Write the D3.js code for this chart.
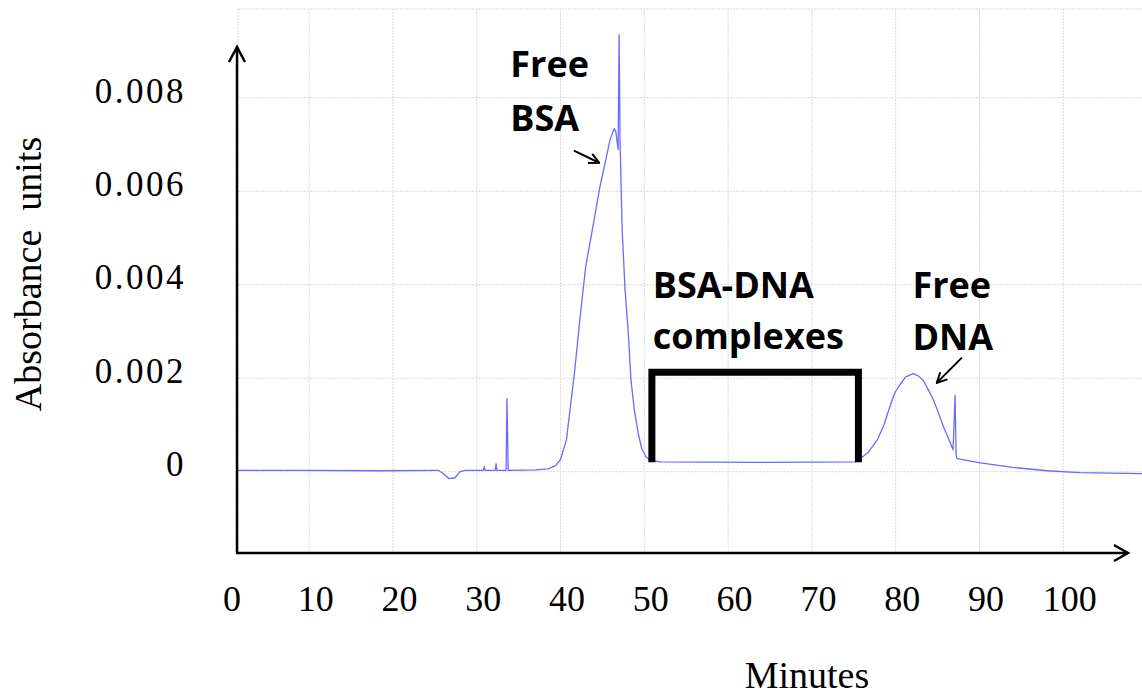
<!DOCTYPE html>
<meta charset="utf-8">
<script src="https://d3js.org/d3.v7.min.js"></script>
<style>
body { margin: 0; background: #fff; }
.grid line { stroke: #dadada; stroke-width: 1px; stroke-dasharray: 2,1; }
.trace { fill: none; stroke: #6a6aff; stroke-width: 1.3px; stroke-linejoin: round; }
.axisline { fill: none; stroke: #000; stroke-width: 2.5px; }
.tick text { font-family: "Liberation Serif", "Times New Roman", serif; fill: #000; }
.ylab text { font-size: 35px; letter-spacing: 2.5px; }
.xlab text { font-size: 36px; }
.title { font-family: "Liberation Serif", "Times New Roman", serif; font-size: 38px; fill: #000; white-space: pre; }
.note { font-family: "Open Sans", sans-serif; font-weight: 700; fill: #000; }
.bracket { fill: none; stroke: #000; stroke-width: 7px; stroke-linejoin: miter; }
.pointer { fill: none; stroke: #000; stroke-width: 2px; }
</style>
<body>
<div id="chart"></div>
<script>
// trace (minutes, absorbance units)
var minutes = [1.5, 8.9, 18.5, 25.4, 26.0, 26.7, 27.4, 28.0, 28.6, 30.8, 30.9, 31.0,
  32.2, 32.3, 32.4, 33.5, 33.6, 33.75, 37.0, 38.5, 39.4, 40.0, 40.7, 41.1, 41.7,
  42.3, 43.0, 43.9, 44.7, 45.4, 45.9, 46.4, 46.6, 46.87, 46.99, 47.1, 47.35, 47.7,
  48.1, 48.4, 48.8, 49.3, 49.7, 50.2, 50.7, 51.9, 63.8, 75.2, 75.8, 76.7, 77.8,
  78.6, 79.3, 79.9, 80.5, 81.2, 82.1, 82.7, 83.3, 83.9, 84.5, 85.1, 85.7, 86.3,
  86.85, 87.09, 87.21, 87.33, 90.1, 94.0, 98.1, 102.0, 109.4];
var absorbance = [0.00003, 0.00003, 0.00002, 0.00003, -0.00004, -0.00015, -0.00013,
  0.0, 0.00003, 0.00003, 0.00011, 0.00003, 0.00003, 0.00017, 0.00003, 0.00003,
  0.00156, 0.00003, 0.00004, 0.00006, 0.00013, 0.00026, 0.00068, 0.00128, 0.00218,
  0.00325, 0.00439, 0.00528, 0.0061, 0.00667, 0.0071, 0.00734, 0.00727, 0.00689,
  0.00935, 0.0071, 0.00518, 0.00389, 0.00293, 0.00197, 0.00133, 0.00079, 0.00049,
  0.00032, 0.00024, 0.00021, 0.0002, 0.00021, 0.00028, 0.00041, 0.00068, 0.001,
  0.00139, 0.00169, 0.00186, 0.00203, 0.0021, 0.00205, 0.00195, 0.00175, 0.00154,
  0.00126, 0.00096, 0.00071, 0.00047, 0.00163, 0.00036, 0.00028, 0.00019, 0.00009,
  0.00002, -0.00002, -0.00004];

var xTicks = [0, 10, 20, 30, 40, 50, 60, 70, 80, 90, 100];
var yTicks = [0, 0.002, 0.004, 0.006, 0.008];

// complex fraction bracket: start, end, height
var bracket = [50.9, 75.55, 0.00213];

var notes = [
  {lines: ["Free", "BSA"], at: [34.0, 0.00845], size: 36, gap: 54},
  {lines: ["BSA-DNA", "complexes"], at: [51.0, 0.00372], size: 36, gap: 51},
  {lines: ["Free", "DNA"], at: [82.0, 0.00372], size: 36, gap: 52}
];
var pointers = [
  [[41.6, 0.00687], [44.6, 0.00661]],
  [[87.9, 0.00244], [84.9, 0.00190]]
];

var width = 1142, height = 695;
var plotL = 238, plotT = 9, plotR = 1142, plotB = 553;

var x = d3.scaleLinear().domain([1.5, 109.4]).range([plotL, plotR]);
var y = d3.scaleLinear().domain([-0.00174, 0.0099]).range([plotB, plotT]);

var svg = d3.select("#chart").append("svg")
  .attr("width", width)
  .attr("height", height);

// faint grid
var grid = svg.append("g").attr("class", "grid");
grid.selectAll(".vx").data(xTicks.slice(1)).enter().append("line")
  .attr("x1", d => x(d)).attr("x2", d => x(d))
  .attr("y1", plotT).attr("y2", plotB);
grid.selectAll(".hy").data(yTicks).enter().append("line")
  .attr("x1", plotL).attr("x2", plotR)
  .attr("y1", d => y(d)).attr("y2", d => y(d));
grid.append("line").attr("x1", plotL).attr("x2", plotR).attr("y1", plotT).attr("y2", plotT);
grid.append("line").attr("x1", plotL).attr("x2", plotL).attr("y1", plotT).attr("y2", plotB);

// trace
var line = d3.line()
  .x((d, i) => x(minutes[i]))
  .y(d => y(d));
svg.append("path")
  .datum(absorbance)
  .attr("class", "trace")
  .attr("d", line);

// bracket over complexes
svg.append("path")
  .attr("class", "bracket")
  .attr("d", "M" + x(bracket[0]) + "," + y(0.0002) +
    "V" + y(bracket[2]) + "H" + x(bracket[1]) + "V" + y(0.0002));

// arrow axes
svg.append("path").attr("class", "axisline")
  .attr("d", "M" + (plotL - 1) + "," + plotB + "V47M" + (plotL - 9) + ",62L" + (plotL - 1) + ",47L" + (plotL + 7) + ",62");
svg.append("path").attr("class", "axisline")
  .attr("d", "M" + (plotL - 2) + "," + plotB + "H1128M1114," + (plotB - 8) + "L1128," + plotB + "L1114," + (plotB + 8));

// tick labels
var xAxis = svg.append("g")
  .attr("class", "xlab")
  .attr("transform", "translate(6,611)")
  .call(d3.axisBottom(x).tickValues(xTicks).tickSize(0).tickPadding(0));
xAxis.select(".domain").remove();
xAxis.selectAll("text").attr("y", 0).attr("dy", null);

var yAxis = svg.append("g")
  .attr("class", "ylab")
  .attr("transform", "translate(186,-7)")
  .call(d3.axisLeft(y).tickValues(yTicks).tickSize(0).tickPadding(0)
    .tickFormat(d => d === 0 ? "0" : d3.format(".3f")(d)));
yAxis.select(".domain").remove();

// titles
svg.append("text").attr("class", "title")
  .attr("x", 807).attr("y", 688)
  .attr("text-anchor", "middle")
  .text("Minutes");
svg.append("text").attr("class", "title")
  .attr("transform", "translate(41,274) rotate(-90)")
  .attr("text-anchor", "middle")
  .text("Absorbance  units");

// annotations
notes.forEach(function(n) {
  var t = svg.append("text").attr("class", "note")
    .style("font-size", n.size + "px");
  n.lines.forEach(function(s, i) {
    t.append("tspan")
      .attr("x", x(n.at[0]))
      .attr("y", y(n.at[1]) + i * n.gap)
      .text(s);
  });
});

svg.append("defs").append("marker")
  .attr("id", "chev")
  .attr("viewBox", "0 -6 12 12")
  .attr("refX", 11)
  .attr("refY", 0)
  .attr("markerWidth", 12)
  .attr("markerHeight", 12)
  .attr("markerUnits", "userSpaceOnUse")
  .attr("orient", "auto")
  .append("path")
  .attr("d", "M1,-5L11,0L1,5")
  .attr("fill", "none")
  .attr("stroke", "#000")
  .attr("stroke-width", 2);

svg.selectAll(".pointer").data(pointers).enter().append("path")
  .attr("class", "pointer")
  .attr("marker-end", "url(#chev)")
  .attr("d", d => "M" + x(d[0][0]) + "," + y(d[0][1]) + "L" + x(d[1][0]) + "," + y(d[1][1]));
</script>
</body>
</html>
